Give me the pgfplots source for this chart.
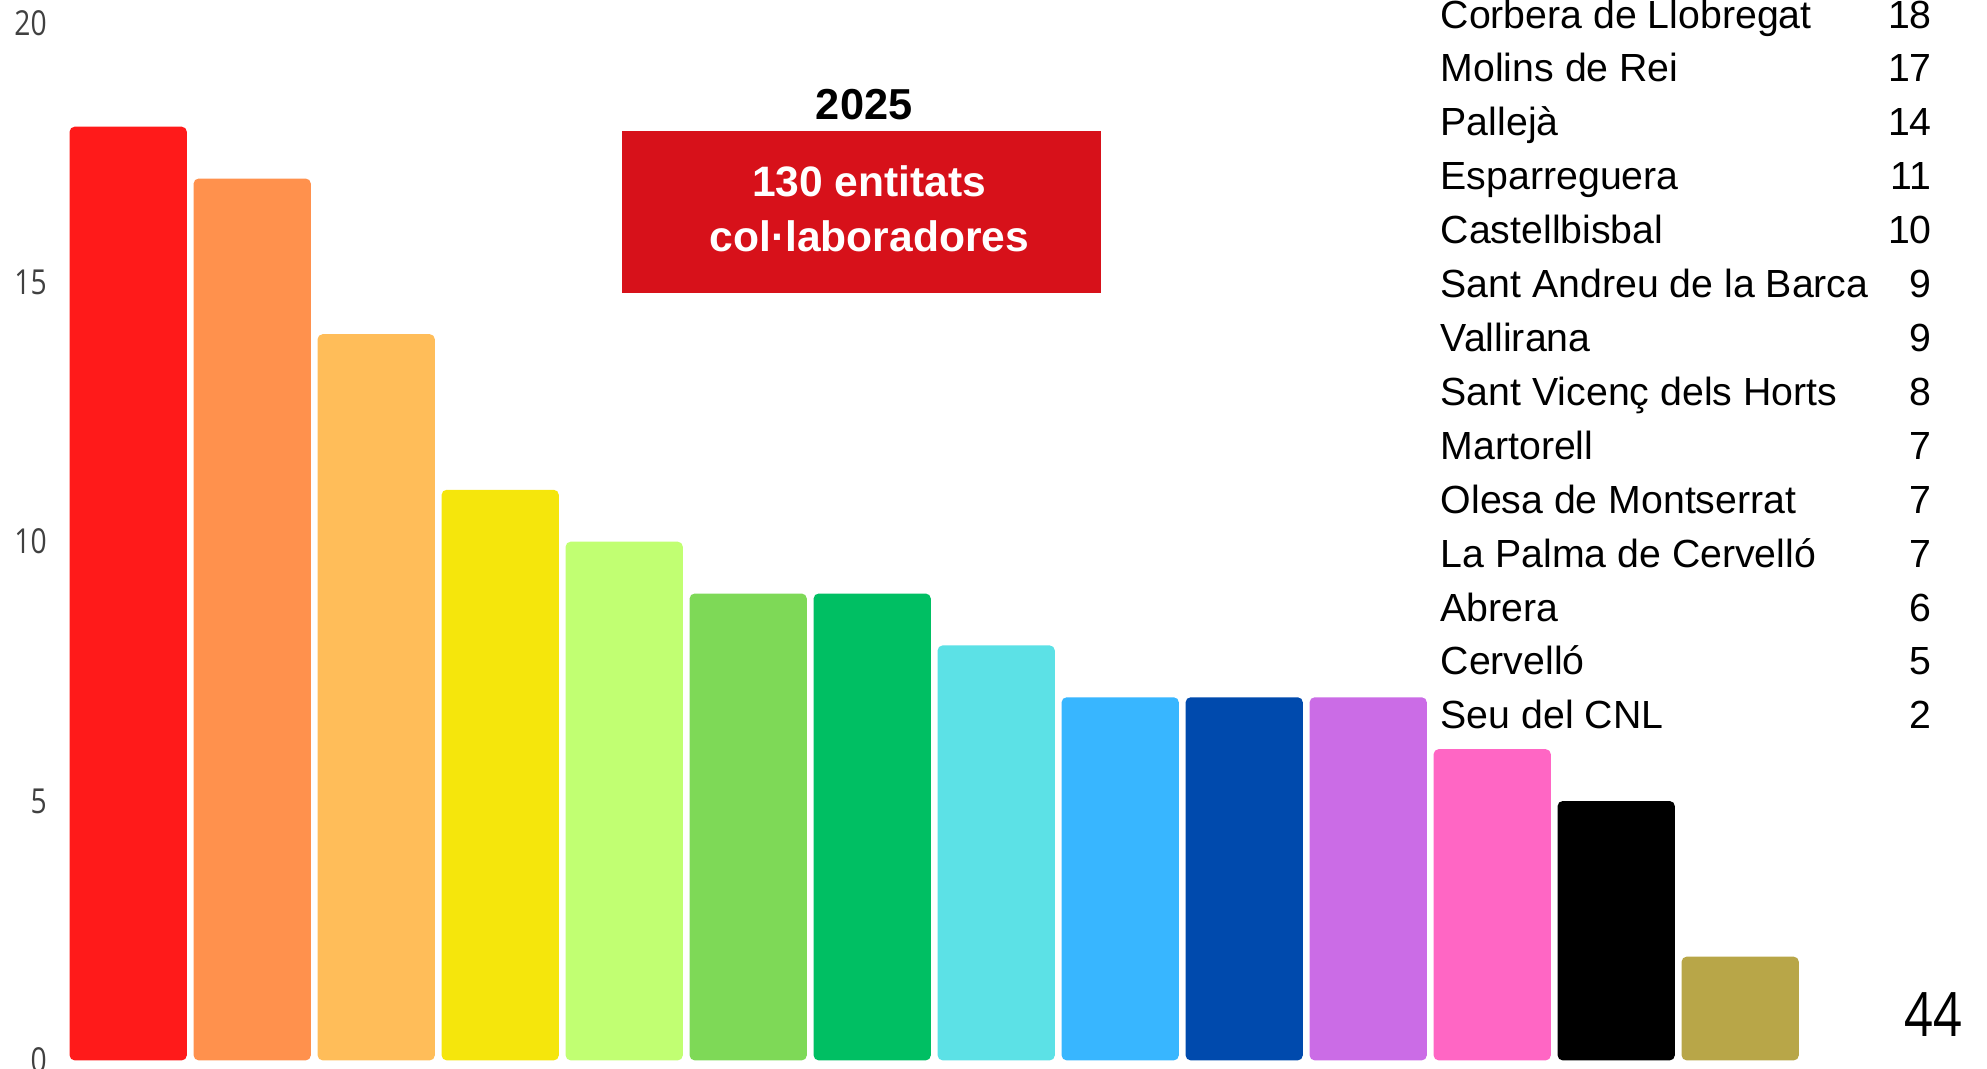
\documentclass[border=0pt]{standalone}
\usepackage{fontspec}
\setmainfont{Liberation Sans}
\newfontfamily\tickfont{Open Sans}[FakeStretch=0.82]
\usepackage{pgfplots}
\pgfplotsset{compat=1.18}

\definecolor{c1}{HTML}{FF1A1A}
\definecolor{c2}{HTML}{FF914D}
\definecolor{c3}{HTML}{FFBD59}
\definecolor{c4}{HTML}{F5E60C}
\definecolor{c5}{HTML}{C1FF72}
\definecolor{c6}{HTML}{7ED957}
\definecolor{c7}{HTML}{00BF63}
\definecolor{c8}{HTML}{5CE1E6}
\definecolor{c9}{HTML}{38B6FF}
\definecolor{c10}{HTML}{004AAD}
\definecolor{c11}{HTML}{CB6CE6}
\definecolor{c12}{HTML}{FF66C4}
\definecolor{c13}{HTML}{000000}
\definecolor{c14}{HTML}{B8A648}
\definecolor{boxred}{HTML}{D7111A}

\pgfplotsset{mybar/.style={ybar, bar width=46pt, bar shift=0pt, draw=none, rounded corners=2pt}}

\begin{document}
\begin{tikzpicture}
\useasboundingbox (0pt,0pt) rectangle (779.5pt,419pt);

\begin{axis}[
  at={(25pt,3pt)}, anchor=south west,
  scale only axis,
  width=682pt, height=407pt,
  xmin=-0.52, xmax=13.5,
  ymin=0, ymax=20,
  xtick=\empty,
  ytick={0,5,10,15,20},
  axis line style={draw=none},
  major tick length=0pt,
  /pgf/number format/assume math mode=true,
  yticklabel style={font=\tickfont\fontsize{13.5}{14}\selectfont, color=black!75,
    inner sep=0pt, anchor=east, xshift=-6.5pt},
]
\addplot[mybar, fill=c1]  coordinates {(0,18)};
\addplot[mybar, fill=c2]  coordinates {(1,17)};
\addplot[mybar, fill=c3]  coordinates {(2,14)};
\addplot[mybar, fill=c4]  coordinates {(3,11)};
\addplot[mybar, fill=c5]  coordinates {(4,10)};
\addplot[mybar, fill=c6]  coordinates {(5,9)};
\addplot[mybar, fill=c7]  coordinates {(6,9)};
\addplot[mybar, fill=c8]  coordinates {(7,8)};
\addplot[mybar, fill=c9]  coordinates {(8,7)};
\addplot[mybar, fill=c10] coordinates {(9,7)};
\addplot[mybar, fill=c11] coordinates {(10,7)};
\addplot[mybar, fill=c12] coordinates {(11,6)};
\addplot[mybar, fill=c13] coordinates {(12,5)};
\addplot[mybar, fill=c14] coordinates {(13,2)};
\end{axis}

\begin{scope}[x=0.5pt, y=0.5pt]
% title and total box
\node[anchor=base, font=\bfseries\fontsize{17}{20}\selectfont] at (678,744) {2025};
\fill[boxred] (488,608) rectangle (864,735);
\node[anchor=base, text=white, font=\bfseries\fontsize{16.7}{20}\selectfont] at (682,684) {130 entitats};
\node[anchor=base, text=white, font=\bfseries\fontsize{16.7}{20}\selectfont] at (682,641) {col·laboradores};

% list of places
\foreach \n/\v [count=\i from 0] in {Corbera de Llobregat/18, Molins de Rei/17, Pallejà/14,
  Esparreguera/11, Castellbisbal/10, Sant Andreu de la Barca/9, Vallirana/9,
  Sant Vicenç dels Horts/8, Martorell/7, Olesa de Montserrat/7, La Palma de Cervelló/7,
  Abrera/6, Cervelló/5, Seu del CNL/2}{
  \node[anchor=base west, inner sep=0pt, font=\fontsize{15.4}{18}\selectfont] at (1130,{816-42.3*\i}) {\n};
  \node[anchor=base east, inner sep=0pt, font=\fontsize{15.4}{18}\selectfont] at (1516,{816-42.3*\i}) {\v};
}

\node[anchor=base east, inner sep=0pt, font=\tickfont\fontsize{24}{26}\selectfont] at (1540,25) {44};
\end{scope}
\end{tikzpicture}
\end{document}
